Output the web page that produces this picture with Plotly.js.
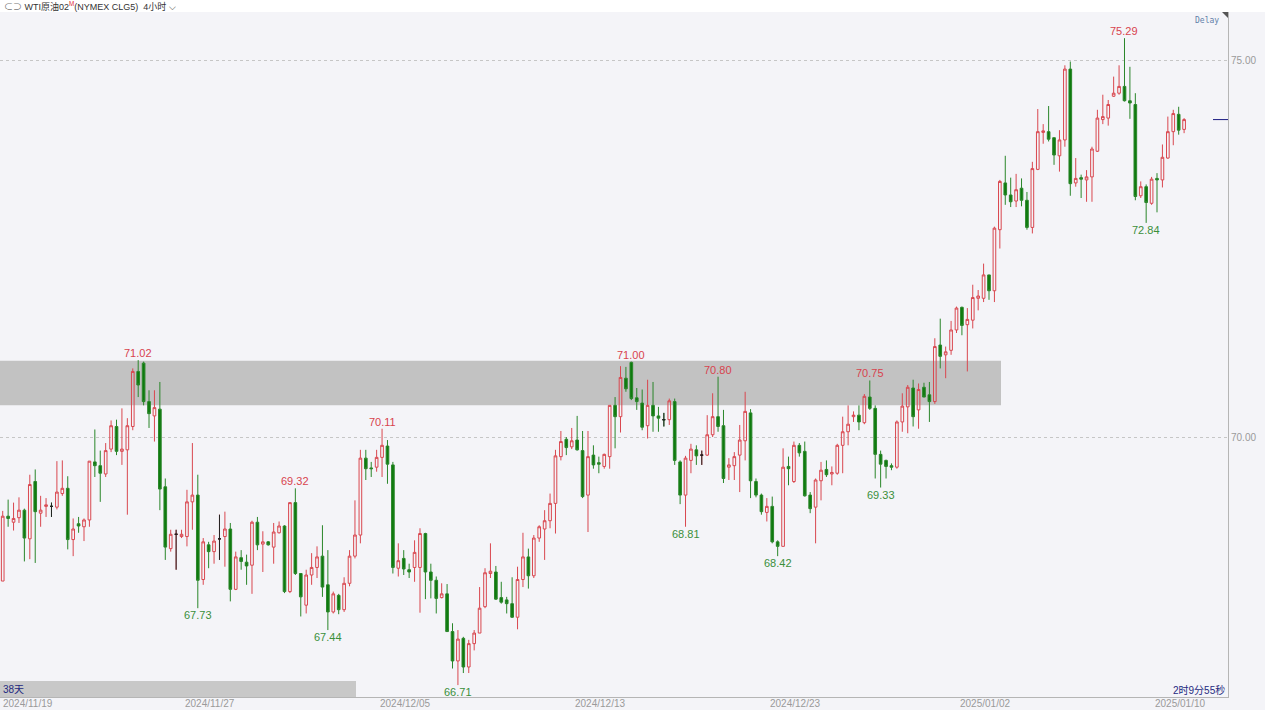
<!DOCTYPE html>
<html>
<head>
<meta charset="utf-8">
<script src="https://cdn.plot.ly/plotly-3.0.1.min.js"></script>
<style>
  html, body { margin: 0; padding: 0; background: #f4f4f8; }
  #chart { width: 1265px; height: 710px; }
</style>
</head>
<body>
<div id="chart"></div>
<script>
// ---- Data: WTI crude 4-hour bars ----
const open = [
68.09,68.95,68.87,68.93,69.03,68.65,69.41,68.99,69.08,69.08,
69.07,69.25,69.32,68.64,68.85,68.81,68.90,69.67,69.62,69.51,
69.84,70.14,69.81,69.83,70.14,70.87,70.98,70.47,70.28,70.37,
69.34,68.52,68.71,68.68,68.68,69.14,69.23,68.11,68.57,68.48,
68.65,68.68,68.78,67.98,68.40,68.34,68.30,68.87,68.58,68.61,
68.54,68.73,68.82,67.95,69.13,68.19,67.77,68.17,68.27,68.42,
68.04,67.68,67.90,67.71,68.06,68.42,68.70,69.72,69.59,69.60,
69.73,69.88,69.63,68.26,68.39,68.24,68.27,68.27,68.72,68.21,
68.10,67.87,67.92,67.42,67.03,67.33,66.95,67.26,67.40,67.75,
68.19,68.21,67.87,67.84,67.79,67.61,68.11,68.41,68.16,68.66,
68.78,68.89,69.12,69.74,69.97,69.87,69.96,69.82,69.23,69.76,
69.66,69.61,69.74,70.42,70.27,70.78,70.99,70.52,70.45,70.15,
70.42,70.28,70.23,70.23,70.47,69.67,69.23,69.69,69.83,69.76,
69.76,70.03,70.27,70.15,69.60,69.62,69.76,69.95,70.32,69.41,
69.23,69.00,69.08,68.61,68.55,69.61,69.41,69.89,69.81,69.23,
69.07,69.42,69.57,69.51,69.52,69.89,70.07,70.27,70.29,70.19,
70.53,70.38,69.77,69.69,69.62,69.60,70.20,70.40,70.65,70.36,
70.66,70.56,70.47,71.22,71.09,71.15,71.42,71.72,71.49,71.55,
71.84,71.84,72.15,71.94,72.75,73.37,73.21,73.13,73.30,73.14,
72.78,73.55,74.04,74.05,73.97,73.73,73.94,74.88,73.37,73.44,
73.41,73.45,73.79,74.21,74.23,74.52,74.56,74.65,74.46,74.41,
73.20,73.32,73.10,73.43,73.41,73.70,74.05,74.28,74.08
];
const high = [
69.02,69.17,69.13,69.20,69.05,69.50,69.57,69.22,69.19,69.13,
69.68,69.69,69.48,68.92,68.94,68.92,69.68,70.10,69.82,69.92,
70.22,70.23,70.38,70.25,70.91,71.02,71.00,70.62,70.62,70.73,
69.45,68.77,68.77,68.77,69.30,69.92,69.50,68.66,68.61,68.70,
68.97,69.01,68.86,68.48,68.50,68.44,68.89,68.94,68.75,68.62,
68.86,68.88,68.83,69.13,69.32,68.19,68.24,68.46,68.55,68.83,
68.50,67.95,67.92,68.14,68.50,69.16,69.83,69.83,69.67,69.83,
70.11,69.96,69.67,68.59,68.50,68.32,68.63,68.79,68.73,68.32,
68.15,68.06,68.05,67.53,67.44,67.35,67.31,67.44,68.01,68.26,
68.59,68.29,68.08,67.88,68.14,68.28,68.73,68.52,68.70,68.83,
69.03,69.25,69.83,70.08,70.00,70.12,70.28,70.08,70.08,69.89,
69.74,69.78,70.42,70.53,70.94,70.93,71.00,70.65,70.63,70.76,
70.73,70.40,70.32,70.51,70.51,69.69,69.75,69.91,69.89,69.82,
70.29,70.58,70.80,70.36,69.72,69.80,70.16,70.60,70.37,69.45,
69.25,69.19,69.21,68.63,69.85,69.74,69.94,69.92,69.94,69.27,
69.45,69.67,69.69,69.61,69.91,70.27,70.42,70.34,70.42,70.57,
70.75,70.42,69.82,69.70,69.65,70.22,70.58,70.69,70.76,70.71,
70.72,70.73,71.31,71.57,71.20,71.54,71.73,71.73,71.71,72.02,
71.95,72.30,72.15,72.79,73.41,73.73,73.44,73.49,73.43,73.25,
73.65,74.35,74.15,74.39,73.97,74.07,74.93,74.98,73.70,73.48,
73.54,73.85,74.34,74.54,74.47,74.78,74.93,75.29,74.91,74.56,
73.39,73.35,73.45,73.50,73.88,74.25,74.34,74.38,74.23
];
const low = [
68.09,68.81,68.76,68.86,68.35,68.38,68.33,68.81,68.94,68.94,
69.04,69.22,68.51,68.42,68.73,68.62,68.81,69.47,69.14,69.47,
69.80,69.76,69.63,68.97,70.09,70.53,70.42,70.12,69.94,69.03,
68.37,68.48,68.24,68.66,68.55,68.77,67.73,68.04,68.26,68.32,
68.37,68.28,67.82,67.97,68.24,68.04,67.92,68.50,68.21,68.56,
68.32,68.72,67.93,67.93,68.17,67.62,67.66,68.04,68.13,67.88,
67.44,67.66,67.65,67.68,68.02,68.39,68.59,69.43,69.47,69.54,
69.47,69.38,68.19,68.15,68.17,68.13,68.08,67.67,67.85,67.86,
67.66,67.86,67.42,66.93,66.71,66.87,66.87,67.17,67.40,67.73,
68.13,67.84,67.79,67.66,67.60,67.45,68.01,67.99,68.13,68.61,
68.37,68.79,68.72,69.69,69.76,69.84,69.82,69.19,68.74,69.58,
69.52,69.58,69.58,69.85,70.06,70.60,70.49,70.36,70.09,69.98,
70.07,70.07,70.14,70.16,69.63,69.11,68.81,69.52,69.63,69.63,
69.75,70.00,70.07,69.39,69.43,69.43,69.27,69.69,69.19,69.20,
68.97,68.88,68.59,68.42,68.55,69.36,69.39,69.74,69.21,68.99,
68.59,69.16,69.47,69.36,69.50,69.52,69.89,70.20,70.09,70.17,
70.36,69.45,69.33,69.45,69.56,69.58,70.07,70.05,70.14,70.11,
70.53,70.20,70.44,70.91,70.78,71.09,71.38,71.35,70.87,71.44,
71.68,71.79,71.82,71.79,72.50,73.08,73.05,73.05,73.06,72.75,
72.70,73.54,73.89,73.92,73.61,73.52,73.85,73.20,73.32,73.17,
73.12,73.12,73.78,74.15,74.13,74.51,74.54,74.45,74.22,73.14,
73.17,72.84,73.08,72.98,73.31,73.69,73.87,74.01,74.03
];
const close = [
68.95,68.92,68.92,69.03,68.66,69.37,69.01,69.03,69.10,69.08,
69.27,69.32,68.64,68.78,68.82,68.90,69.68,69.62,69.52,69.82,
70.15,69.81,69.84,70.15,70.87,70.69,70.47,70.31,70.39,69.31,
68.54,68.71,68.71,68.71,69.14,69.23,68.10,68.61,68.48,68.62,
68.65,68.78,67.98,68.41,68.35,68.29,68.87,68.57,68.61,68.57,
68.74,68.82,67.95,69.13,68.19,67.88,68.17,68.27,68.41,68.01,
67.68,67.92,67.71,68.06,68.42,68.70,69.72,69.58,69.58,69.73,
69.89,69.64,68.27,68.36,68.25,68.21,68.47,68.72,68.21,68.10,
67.86,67.92,67.42,67.03,67.32,66.95,67.26,67.40,67.73,68.20,
68.22,67.85,67.81,67.79,67.61,68.11,68.41,68.16,68.66,68.81,
68.89,69.12,69.75,69.94,69.86,69.95,69.83,69.21,69.74,69.63,
69.64,69.77,70.42,70.27,70.79,70.64,70.51,70.47,70.13,70.42,
70.28,70.25,70.23,70.48,69.69,69.23,69.72,69.84,69.75,69.76,
70.03,70.27,70.14,69.45,69.63,69.74,69.96,70.34,69.42,69.23,
69.01,69.08,68.61,68.55,69.60,69.58,69.89,69.79,69.22,69.05,
69.43,69.56,69.50,69.53,69.89,70.07,70.17,70.29,70.20,70.54,
70.38,69.77,69.64,69.61,69.60,70.20,70.41,70.66,70.27,70.63,
70.53,70.47,71.20,71.07,71.13,71.42,71.71,71.48,71.56,71.85,
71.87,72.15,71.94,72.77,73.39,73.21,73.12,73.28,73.14,72.78,
73.56,74.05,74.06,73.95,73.74,73.94,74.88,73.36,73.43,73.42,
73.45,73.82,74.23,74.25,74.41,74.56,74.65,74.46,74.43,73.19,
73.32,73.11,73.42,73.41,73.71,74.05,74.29,74.07,74.21
];

// Marked highs / lows (bar indices)
const peakIdx = [25, 54, 70, 116, 132, 160, 207];
const troughIdx = [36, 60, 84, 126, 143, 162, 211];

// Date tick labels (bar index where each date starts)
const tickIdx = [-0.5, 33, 69, 105, 141, 176, 212];
const tickLabels = ['2024/11/19','2024/11/27','2024/12/05','2024/12/13','2024/12/23','2025/01/02','2025/01/10'];

// Resistance zone (price band)
const zoneLow = 70.42, zoneHigh = 71.01;

// ---- Build chart ----
const idx = open.map((_, i) => i);
const upColor = '#d9474f', downLine = '#2a862a', downFill = '#0e7a0e';

const main = {
  type: 'candlestick', x: idx, open: open, high: high, low: low, close: close,
  increasing: { line: { color: upColor, width: 1 }, fillcolor: 'rgba(0,0,0,0)' },
  decreasing: { line: { color: downLine, width: 1 }, fillcolor: downFill },
  whiskerwidth: 0, hoverinfo: 'skip', showlegend: false
};

const dj = idx.filter(i => open[i] === close[i]);
const doji = {
  type: 'candlestick', x: dj, open: dj.map(i => open[i]), high: dj.map(i => high[i]),
  low: dj.map(i => low[i]), close: dj.map(i => close[i]),
  increasing: { line: { color: '#222', width: 1 }, fillcolor: '#222' },
  decreasing: { line: { color: '#222', width: 1 }, fillcolor: '#222' },
  hoverinfo: 'skip', showlegend: false
};

const labFont = { family: 'Liberation Sans, Arial, sans-serif', size: 11 };
const annotations = [];
peakIdx.forEach(i => annotations.push({
  x: i, y: high[i], xref: 'x', yref: 'y', text: high[i].toFixed(2), showarrow: false,
  yanchor: 'bottom', yshift: -1, font: Object.assign({ color: '#d8434e' }, labFont)
}));
troughIdx.forEach(i => annotations.push({
  x: i, y: low[i], xref: 'x', yref: 'y', text: low[i].toFixed(2), showarrow: false,
  yanchor: 'top', yshift: 1, font: Object.assign({ color: '#3b8f3b' }, labFont)
}));

const W = 1228, PH = 685; // plot area size in px
const py = (pix) => (697 - pix) / PH; // paper y from page pixel
const px = (pix) => pix / W;           // paper x from page pixel

const axFont = { family: 'Liberation Sans, Arial, sans-serif', size: 10, color: '#9a9a9a' };

// date labels along the bottom, left-aligned at the first bar of each date
tickIdx.forEach((t, k) => annotations.push({
  xref: 'x', yref: 'paper', x: t, y: py(703.5), xanchor: 'left', yanchor: 'middle',
  xshift: 1, showarrow: false, text: tickLabels[k], font: axFont
}));

annotations.push({
  xref: 'paper', yref: 'paper', x: px(2), y: py(6), xanchor: 'left', yanchor: 'middle',
  showarrow: false,
  text: '<span style="color:#777">⊂⊃</span> WTI原油02<sup><span style="color:#e0303a">M</span></sup>(NYMEX CLG5)  4小时 ⌵',
  font: { family: 'Liberation Sans, Noto Sans CJK SC, sans-serif', size: 9, color: '#333' }
});
annotations.push({
  xref: 'paper', yref: 'paper', x: px(1221), y: py(20), xanchor: 'right', yanchor: 'middle',
  showarrow: false, text: 'Delay',
  font: { family: 'DejaVu Sans Mono, monospace', size: 8, color: '#5f7fa8' }
});
annotations.push({
  xref: 'paper', yref: 'paper', x: px(1), y: py(689), xanchor: 'left', yanchor: 'middle',
  showarrow: false, text: '38天',
  font: { family: 'Liberation Sans, Noto Sans CJK SC, sans-serif', size: 10, color: '#1f2a80' }
});
annotations.push({
  xref: 'paper', yref: 'paper', x: px(1227), y: py(690), xanchor: 'right', yanchor: 'middle',
  showarrow: false, text: '2时9分55秒',
  font: { family: 'Liberation Sans, Noto Sans CJK SC, sans-serif', size: 10, color: '#1f2a80' }
});

const shapes = [
  { type: 'rect', xref: 'paper', yref: 'y', x0: 0, x1: px(1001), y0: zoneLow, y1: zoneHigh,
    fillcolor: '#c2c2c2', line: { width: 0 }, layer: 'below' },
  { type: 'rect', xref: 'paper', yref: 'paper', x0: 0, x1: 1265 / W, y0: 1, y1: py(0),
    fillcolor: '#ffffff', line: { width: 0 } },
  { type: 'rect', xref: 'paper', yref: 'paper', x0: 0, x1: px(356), y0: 0, y1: py(681),
    fillcolor: '#c8c8c8', line: { width: 0 }, layer: 'below' },
  { type: 'path', xref: 'paper', yref: 'paper',
    path: `M ${px(1222)} 1 L 1 1 L 1 ${py(18)} Z`, fillcolor: '#555', line: { width: 0 } },
  { type: 'line', xref: 'paper', yref: 'y', x0: px(1213), x1: 1,
    y0: close[close.length - 1], y1: close[close.length - 1], line: { color: '#1a1a80', width: 1 } }
];

const layout = {
  width: 1265, height: 710,
  margin: { l: 0, r: 37, t: 12, b: 13, pad: 0 },
  paper_bgcolor: '#f4f4f8', plot_bgcolor: '#f4f4f8',
  showlegend: false, dragmode: false, hovermode: false,
  xaxis: {
    range: [-0.5, 226.1], showgrid: false, zeroline: false,
    showticklabels: false, ticks: '',
    showline: true, linecolor: '#b5b5b5', mirror: true,
    rangeslider: { visible: false }, fixedrange: true
  },
  yaxis: {
    side: 'right', range: [66.552, 75.637],
    tickmode: 'array', tickvals: [70, 75], ticktext: ['70.00', '75.00'],
    showgrid: true, gridcolor: '#c6c6c6', griddash: 'dot', gridwidth: 1,
    zeroline: false, ticks: '', tickfont: axFont,
    showline: true, linecolor: '#b5b5b5', mirror: true, fixedrange: true
  },
  annotations: annotations,
  shapes: shapes
};

Plotly.newPlot('chart', [main, doji], layout, { displayModeBar: false, staticPlot: true });
</script>
</body>
</html>
